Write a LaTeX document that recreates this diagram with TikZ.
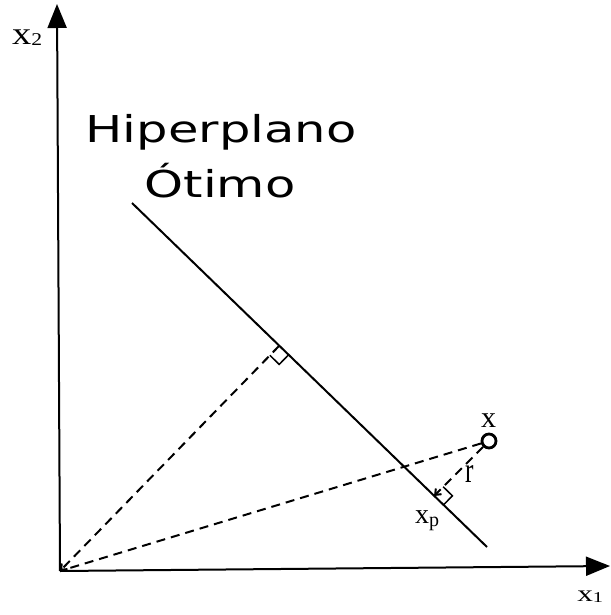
\documentclass[tikz,border=0pt]{standalone}
\usepackage{fontspec}
\setmainfont{Liberation Serif}
\newfontfamily\hypfont{DejaVu Sans}
\usetikzlibrary{arrows.meta,calc}
\begin{document}
\begin{tikzpicture}[x=1pt,y=-1pt,
  axis/.style={line width=2pt,-{Triangle[length=24pt,width=19pt]}},
  hline/.style={line width=2pt},
  dline/.style={line width=2pt,dash pattern=on 9pt off 6pt},
  sq/.style={line width=1.5pt},
  lab/.style={inner sep=0pt,anchor=base west},
  title/.style={inner sep=0pt,anchor=base,font=\fontsize{37}{37}\hypfont,xscale=1.34}]
\useasboundingbox (0,0) rectangle (610,615);
\coordinate (O) at (60,571);
\coordinate (X1) at (610,566);
\coordinate (X2) at (57,4);
\coordinate (H1) at (132,203);
\coordinate (H2) at (487,547);
\coordinate (F1) at (279,346);
\coordinate (F2) at (434,496);
\node[circle,draw,line width=2.8pt,minimum size=14pt,inner sep=0pt] (px) at (489,441) {};
% axes
\draw[axis] (O) -- (X1);
\draw[axis] (O) -- (X2);
% hyperplane
\draw[hline] (H1) -- (H2);
% dashed lines
\draw[dline,-{Straight Barb[length=5pt,width=8pt]}] (F1) -- (O);
\draw[dline] (px) -- (O);
\draw[dline,-{Straight Barb[length=5pt,width=8pt]}] (px) -- (F2);
% right-angle marks
\draw[sq] ($(F1)+(9.3,9.1)$) -- ++(-9.1,9.3) -- ++(-9.3,-9.1);
\draw[sq] ($(F2)+(9.3,9.1)$) -- ++(9.1,-9.3) -- ++(-9.3,-9.1);
% labels
\node[title] (t1) at (221,142) {Hiperplano};
\node[title] (t2) at (220,197) {Ótimo};
\node[lab,font=\fontsize{32}{32}\selectfont,xscale=1.2] (lx2) at (12,45) {x\raisebox{-1pt}{\fontsize{18}{18}\selectfont 2}};
\node[lab,font=\fontsize{23}{23}\selectfont,xscale=1.36] (lx1) at (577,601) {x\raisebox{-1pt}{\fontsize{15}{15}\selectfont 1}};
\node[lab,font=\fontsize{30}{30}\selectfont] (lx) at (481,427) {x};
\node[lab,font=\fontsize{36}{36}\selectfont,xscale=0.7] (lr) at (465,482) {r};
\node[lab,font=\fontsize{28}{28}\selectfont] (lxp) at (415,523) {x\raisebox{-3pt}{\fontsize{20}{20}\selectfont p}};
\end{tikzpicture}
\end{document}
